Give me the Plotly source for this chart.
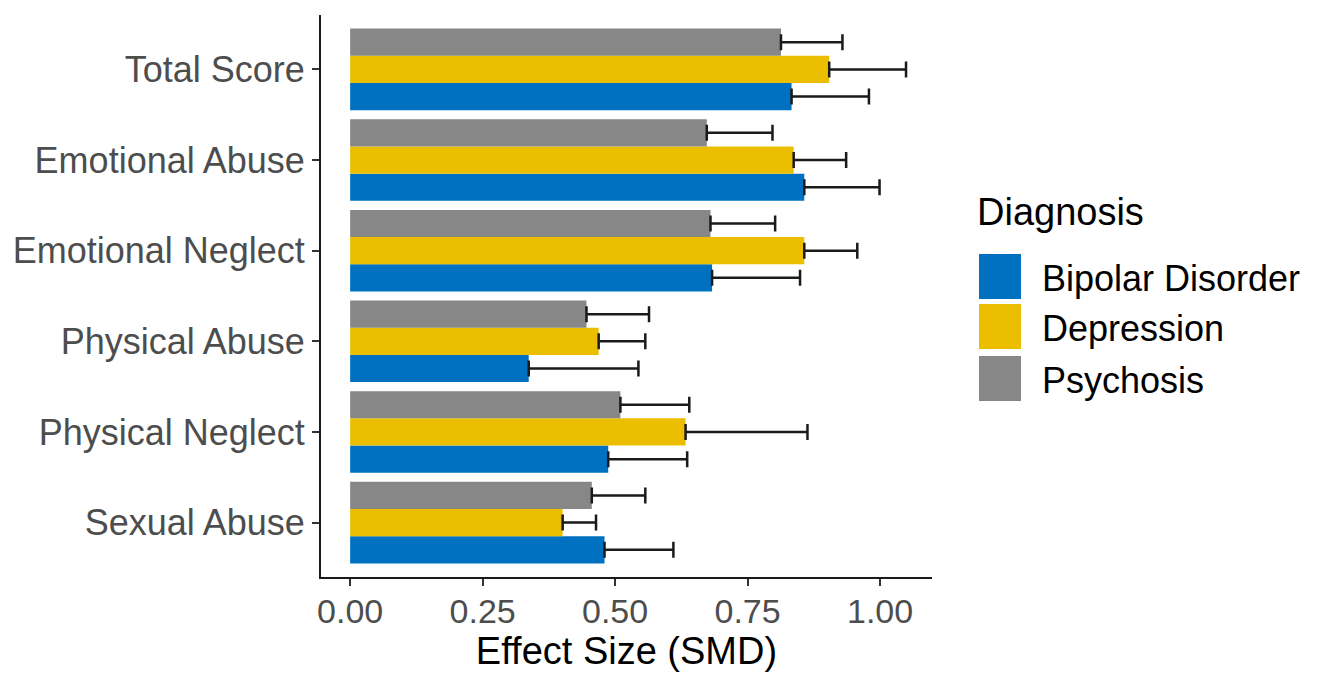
import plotly.graph_objects as go

# Outcome domains, listed top to bottom as displayed
domains = ["Total Score", "Emotional Abuse", "Emotional Neglect",
           "Physical Abuse", "Physical Neglect", "Sexual Abuse"]

diagnoses = ["Bipolar Disorder", "Depression", "Psychosis"]
colors = {"Bipolar Disorder": "#0071C1", "Depression": "#EBBF00", "Psychosis": "#878787"}

# Standardised mean differences per diagnosis (same order as domains)
smd_bipolar = [0.833, 0.857, 0.683, 0.337, 0.487, 0.480]
smd_depression = [0.904, 0.837, 0.857, 0.469, 0.633, 0.401]
smd_psychosis = [0.813, 0.673, 0.680, 0.446, 0.510, 0.456]

# Upper confidence limits
upper_bipolar = [0.979, 0.999, 0.849, 0.544, 0.636, 0.610]
upper_depression = [1.049, 0.936, 0.957, 0.557, 0.863, 0.464]
upper_psychosis = [0.929, 0.797, 0.802, 0.564, 0.640, 0.557]

smd = {"Bipolar Disorder": smd_bipolar, "Depression": smd_depression, "Psychosis": smd_psychosis}
upper = {"Bipolar Disorder": upper_bipolar, "Depression": upper_depression, "Psychosis": upper_psychosis}

x_ticks = [0, 0.25, 0.5, 0.75, 1.0]
x_tick_labels = ["0.00", "0.25", "0.50", "0.75", "1.00"]

FONT = "Liberation Sans, Arial, Helvetica, sans-serif"
W, H = 1322, 677
L, R, T, B = 321, 390, 15, 100
PW, PH = W - L - R, H - T - B


def px_x(px):
    return (px - L) / PW


def px_y(py):
    return (H - B - py) / PH


fig = go.Figure()
for d in diagnoses:
    est = smd[d]
    hi = upper[d]
    fig.add_trace(go.Bar(
        y=domains, x=est, orientation="h", name=d,
        marker=dict(color=colors[d], line=dict(width=0)),
        error_x=dict(type="data", symmetric=False,
                     array=[h - e for h, e in zip(hi, est)],
                     arrayminus=[0] * len(est),
                     color="#1a1a1a", thickness=2.5, width=8),
        showlegend=False,
    ))

# Legend drawn as keys plus labels
shapes = []
annotations = []
key_tops = [254, 304, 356]
for d, top in zip(diagnoses, key_tops):
    shapes.append(dict(type="rect", xref="paper", yref="paper",
                       x0=px_x(979), x1=px_x(1021), y0=px_y(top + 45), y1=px_y(top),
                       fillcolor=colors[d], line=dict(width=0)))
    annotations.append(dict(text=d, xref="paper", yref="paper",
                            x=px_x(1040), y=px_y(top + 24), xanchor="left", yanchor="middle",
                            showarrow=False, font=dict(family=FONT, size=36, color="#000000")))
annotations.append(dict(text="Diagnosis", xref="paper", yref="paper",
                        x=px_x(975), y=px_y(212), xanchor="left", yanchor="middle",
                        showarrow=False, font=dict(family=FONT, size=38, color="#000000")))

fig.update_layout(
    width=W, height=H,
    margin=dict(l=L, r=R, t=T, b=B, pad=0),
    paper_bgcolor="white", plot_bgcolor="white",
    barmode="group", bargap=0.1, bargroupgap=0,
    font=dict(family=FONT),
    shapes=shapes, annotations=annotations,
    showlegend=False,
    xaxis=dict(range=[-0.055, 1.098], tickvals=x_ticks, ticktext=x_tick_labels,
               showline=True, linecolor="#1a1a1a", linewidth=2,
               ticks="outside", ticklen=7, tickwidth=2, tickcolor="#333333",
               ticklabelstandoff=-4,
               tickfont=dict(family=FONT, size=34, color="#4d4d4d"),
               showgrid=False, zeroline=False,
               title=dict(text="Effect Size (SMD)", standoff=6,
                          font=dict(family=FONT, size=38, color="#000000"))),
    yaxis=dict(type="category", categoryorder="array", categoryarray=domains[::-1],
               range=[-0.6, 5.6],
               showline=True, linecolor="#1a1a1a", linewidth=2,
               ticks="outside", ticklen=7, tickwidth=2, tickcolor="#333333",
               tickfont=dict(family=FONT, size=36, color="#4d4d4d"),
               showgrid=False, zeroline=False),
)

fig.write_html("out.html")
